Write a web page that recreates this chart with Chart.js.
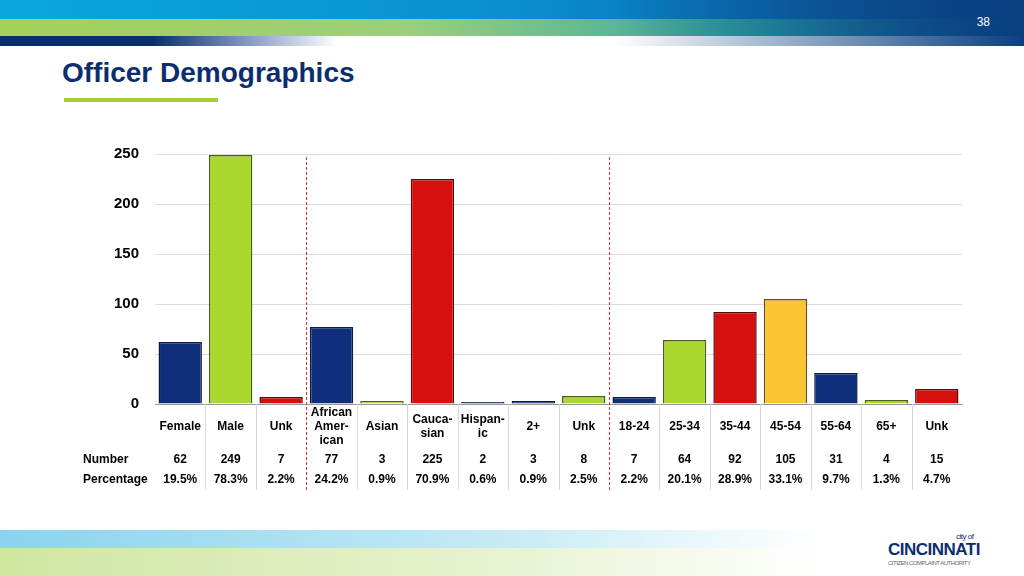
<!DOCTYPE html>
<html><head><meta charset="utf-8">
<script src="https://cdn.jsdelivr.net/npm/chart.js@4"></script>
<style>
body{margin:0;width:1024px;height:576px;position:relative;overflow:hidden;background:#fff;font-family:"Liberation Sans",Arial,sans-serif}
.b1{position:absolute;left:0;top:0;width:1024px;height:19px;background:linear-gradient(90deg,#0aa6e0,#0a8fd0 50%,#0a4f96)}
.b2{position:absolute;left:0;top:19px;width:1024px;height:17px;background:linear-gradient(90deg,#a5d05a,#9ccf7c 40%,#2aa5a5 75%,#0a5c9c)}
.b3{position:absolute;left:0;top:36px;width:1024px;height:10px;background:linear-gradient(90deg,#0b2f6e 15%,#8fa3c8 25%,#fff 33%)}
.b3r{position:absolute;left:0;top:0;width:1024px;height:46px;background:linear-gradient(90deg,rgba(0,0,0,0) 60%,#0a3f80 100%)}
.pg{position:absolute;right:34px;top:15px;color:#fff;font-size:12px}
h1{position:absolute;left:62px;top:57px;margin:0;font-size:28px;color:#0d2e6e;font-weight:bold}
.ul{position:absolute;left:64px;top:98px;width:154px;height:4px;background:#a6cc37}
.f1{position:absolute;left:0;top:530px;width:1024px;height:18px;background:linear-gradient(90deg,#8ad3ee,#c7ebf5 50%,#fff 80%)}
.f2{position:absolute;left:0;top:548px;width:1024px;height:28px;background:linear-gradient(90deg,#cfe6a0,#e8f3d2 50%,#fff 80%)}
.logo{position:absolute;left:888px;top:540px;color:#0d2e6e;font-size:17px;font-weight:bold;letter-spacing:-0.5px}
.logo small{position:absolute;left:68px;top:-8px;font-size:8px;font-weight:normal}
.logo i{position:absolute;left:0;top:20px;font-size:6px;font-style:normal;font-weight:normal;color:#666;white-space:nowrap}
canvas{position:absolute;left:0;top:0}
</style></head><body>
<div class="b1"></div><div class="b2"></div><div class="b3"></div><div class="b3r"></div>
<div class="pg">38</div>
<h1>Officer Demographics</h1><div class="ul"></div>
<div class="f1"></div><div class="f2"></div>
<div class="logo"><small>city of</small>CINCINNATI<i>CITIZEN COMPLAINT AUTHORITY</i></div>
<canvas id="c" width="1024" height="576" style="width:1024px;height:576px"></canvas>
<script>
const categories=[["Female"],["Male"],["Unk"],["African","Amer-","ican"],["Asian"],["Cauca-","sian"],["Hispan-","ic"],["2+"],["Unk"],["18-24"],["25-34"],["35-44"],["45-54"],["55-64"],["65+"],["Unk"]];
const numbers=[62,249,7,77,3,225,2,3,8,7,64,92,105,31,4,15];
const percentages=["19.5%","78.3%","2.2%","24.2%","0.9%","70.9%","0.6%","0.9%","2.5%","2.2%","20.1%","28.9%","33.1%","9.7%","1.3%","4.7%"];
const colorKeys=["n","g","r","n","g","r","n","n","g","n","g","r","y","n","g","r"];
const groupBreaks=[2,8];
const pal={n:"#0f2f7c",g:"#aad82e",r:"#d7100f",y:"#f9c632"};
const brd={n:"#0a1a40",g:"#4d5e18",r:"#5a0808",y:"#6a5010"};
const tablePlugin={id:"tbl",afterDraw(ch){
 const c=ch.ctx,x=ch.scales.x,ca=ch.chartArea;c.save();
 c.font="bold 12px 'Liberation Sans',Arial";c.textAlign="center";c.textBaseline="middle";c.fillStyle="#000";
 const step=x.getPixelForValue(1)-x.getPixelForValue(0);
 categories.forEach((l,i)=>{const px=x.getPixelForValue(i);
  const y0=427-(l.length-1)*7;
  l.forEach((t,k)=>c.fillText(t,px,y0+k*14));
  c.fillText(String(numbers[i]),px,460);c.fillText(percentages[i],px,480);
  if(i>0&&!groupBreaks.includes(i-1)){c.strokeStyle="#d8d8d8";c.lineWidth=1;c.beginPath();c.moveTo(Math.round(px-step/2)+.5,ca.bottom);c.lineTo(Math.round(px-step/2)+.5,490);c.stroke();}
 });
 c.textAlign="left";c.fillText("Number",83,460);c.fillText("Percentage",83,480);
 c.strokeStyle="#e03030";c.setLineDash([3,2]);c.lineWidth=1;
 groupBreaks.forEach(b=>{const px=Math.round((x.getPixelForValue(b)+x.getPixelForValue(b+1))/2)+.5;c.beginPath();c.moveTo(px,157);c.lineTo(px,490);c.stroke();});
 c.restore();}};
new Chart(document.getElementById("c"),{type:"bar",
 data:{labels:categories.map(l=>l.join(" ")),datasets:[{data:numbers,
  backgroundColor:colorKeys.map(k=>pal[k]),borderColor:colorKeys.map(k=>brd[k]),borderWidth:1.5,
  categoryPercentage:0.86,barPercentage:1}]},
 options:{responsive:false,animation:false,devicePixelRatio:1,
  layout:{padding:{left:0,right:62,top:154,bottom:0}},
  plugins:{legend:{display:false},tooltip:{enabled:false}},
  scales:{
   x:{ticks:{display:false},grid:{display:false},border:{color:"#999"},afterFit(s){s.height=172;}},
   y:{min:0,max:250,ticks:{stepSize:50,padding:16,color:"#000",font:{family:"'Liberation Sans',Arial",size:15,weight:"bold"}},
      grid:{color:"#dcdcdc",drawTicks:false},border:{display:false},afterFit(s){s.width=155;}}}},
 plugins:[tablePlugin]});
</script></body></html>
